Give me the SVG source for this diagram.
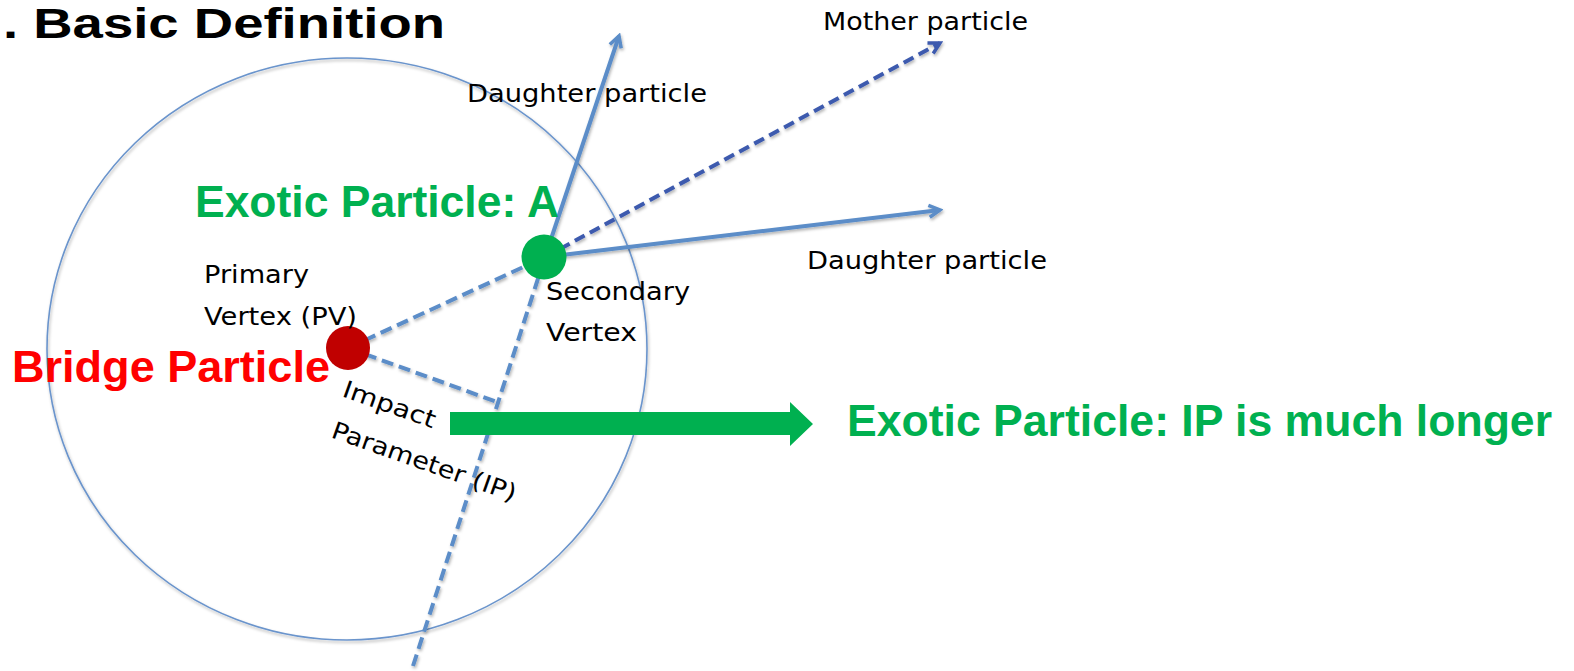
<svg xmlns="http://www.w3.org/2000/svg" width="1574" height="671" viewBox="0 0 1574 671">
<style>
.lbl{font-family:"DejaVu Sans","Liberation Sans",sans-serif;font-size:24px;fill:#000}
.big{font-family:"Liberation Sans",Arial,sans-serif;font-weight:bold;font-size:44px}
.green{fill:#00b050}
.red{fill:#ff0000}
.lt{stroke:#5b8dc8;stroke-width:4;fill:none}
.dash{stroke-dasharray:12 6}
.dk{stroke:#3c5aae;stroke-width:4;fill:none;stroke-dasharray:11 6}
</style>
<defs>
<filter id="sh" x="-10%" y="-10%" width="120%" height="120%">
<feDropShadow dx="1" dy="2" stdDeviation="1.5" flood-color="#000" flood-opacity="0.3"/>
</filter>
<marker id="ah" viewBox="0 0 16 16" refX="13" refY="8" markerWidth="16" markerHeight="16" markerUnits="userSpaceOnUse" orient="auto">
<path d="M2,2 L13,8 L2,14" fill="none" stroke="#5b8dc8" stroke-width="3.5"/>
</marker>
<marker id="ahd" viewBox="0 0 16 16" refX="13" refY="8" markerWidth="16" markerHeight="16" markerUnits="userSpaceOnUse" orient="auto">
<path d="M2,2 L13,8 L2,14" fill="none" stroke="#3c5aae" stroke-width="3.5"/>
</marker>
</defs>
<rect width="1574" height="671" fill="#fff"/>
<text id="title" x="3" y="38" font-family="Liberation Sans, Arial, sans-serif" font-weight="bold" font-size="42" textLength="442" lengthAdjust="spacingAndGlyphs">. Basic Definition</text>
<g id="detector">
<ellipse cx="347" cy="349" rx="300" ry="291" fill="none" stroke="#6a94cc" stroke-width="1.6" filter="url(#sh)"/>
</g>
<g id="connectors" filter="url(#sh)">
<line class="lt dash" x1="413" y1="666" x2="545" y2="257"/>
<line class="lt" x1="545" y1="257" x2="619" y2="36" marker-end="url(#ah)"/>
<line class="dk" x1="545" y1="257" x2="940" y2="43" marker-end="url(#ahd)"/>
<line class="lt" x1="545" y1="257" x2="940" y2="210" marker-end="url(#ah)"/>
<line class="lt dash" x1="348" y1="348" x2="545" y2="257"/>
<line class="lt dash" x1="348" y1="348" x2="497" y2="402"/>
</g>
<g id="ip-arrow">
<polygon points="450,412 790,412 790,402 813,424 790,446 790,435 450,435" fill="#00b050"/>
</g>
<g id="primary-vertex">
<circle cx="348" cy="348" r="22" fill="#c00000"/>
<text class="lbl" x="204" y="283" textLength="105" lengthAdjust="spacingAndGlyphs">Primary</text>
<text class="lbl" x="204" y="325" textLength="153" lengthAdjust="spacingAndGlyphs">Vertex (PV)</text>
</g>
<g id="secondary-vertex">
<circle cx="544" cy="257" r="22.5" fill="#00b050"/>
<text class="lbl" x="546" y="300" textLength="144" lengthAdjust="spacingAndGlyphs">Secondary</text>
<text class="lbl" x="546" y="341" textLength="91" lengthAdjust="spacingAndGlyphs">Vertex</text>
</g>
<g id="labels">
<text class="lbl" x="823" y="30" textLength="205" lengthAdjust="spacingAndGlyphs">Mother particle</text>
<text class="lbl" x="467" y="102" textLength="240" lengthAdjust="spacingAndGlyphs">Daughter particle</text>
<text class="lbl" x="807" y="269" textLength="240" lengthAdjust="spacingAndGlyphs">Daughter particle</text>
<text class="lbl" transform="translate(341,396) rotate(19.5)" textLength="97" lengthAdjust="spacingAndGlyphs">Impact</text>
<text class="lbl" transform="translate(330,437) rotate(19.5)" textLength="194" lengthAdjust="spacingAndGlyphs">Parameter (IP)</text>
<text class="big green" x="195" y="217" textLength="364" lengthAdjust="spacingAndGlyphs">Exotic Particle: A</text>
<text class="big red" x="12" y="382" textLength="318" lengthAdjust="spacingAndGlyphs">Bridge Particle</text>
<text class="big green" x="847" y="436" textLength="705" lengthAdjust="spacingAndGlyphs">Exotic Particle: IP is much longer</text>
</g>
</svg>
